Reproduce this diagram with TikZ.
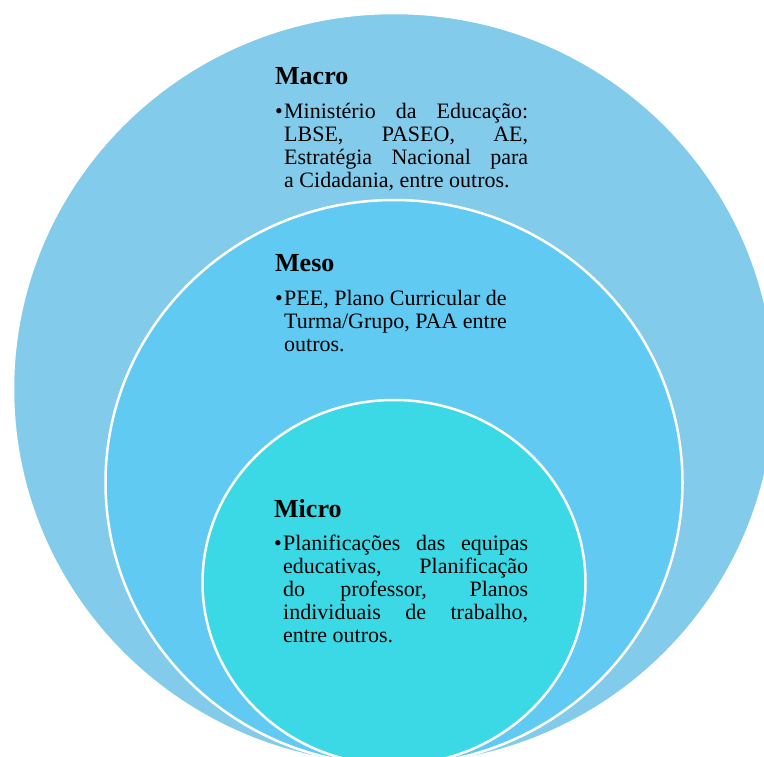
\documentclass[tikz,border=0pt]{standalone}
\usepackage{fontspec}
\setmainfont{Liberation Serif}
\definecolor{outerblue}{RGB}{131,203,235}
\definecolor{midblue}{RGB}{97,202,242}
\definecolor{innercyan}{RGB}{58,217,229}
\tikzset{
  ring/.style={draw=white, line width=2.5pt},
  blocktext/.style={anchor=base west, inner sep=0pt, text=black}
}
\newcommand{\lvltitle}[1]{{\fontsize{26}{28}\selectfont\bfseries #1}\par\vspace{10.5pt}}
\newcommand{\lvlbody}{\fontsize{22}{23}\selectfont\tolerance=10000\hbadness=10000\hyphenpenalty=10000}
\newcommand{\lvlbullet}{\hangindent=9pt\hangafter=1\noindent\makebox[9pt][l]{•}}
\begin{document}
\begin{tikzpicture}[x=1pt,y=-1pt]
\useasboundingbox (0,0) rectangle (764,757);
\clip (0,0) rectangle (764,757);
\draw[ring, fill=outerblue] (394,389) ellipse [x radius=381pt, y radius=376pt];
\draw[ring, fill=midblue] (394,482.5) ellipse [x radius=288.5pt, y radius=282.5pt];
\draw[ring, fill=innercyan] (394,582.5) ellipse [x radius=191.5pt, y radius=182.5pt];
\node[blocktext] (macro) at (275,85) {\parbox[t]{253pt}{\lvltitle{Macro}\lvlbody\lvlbullet Ministério da Educação:\linebreak LBSE, PASEO, AE,\linebreak Estratégia Nacional para\linebreak a Cidadania, entre outros.}};
\node[blocktext] (meso) at (275,272) {\parbox[t]{253pt}{\lvltitle{Meso}\lvlbody\lvlbullet PEE, Plano Curricular de\newline Turma/Grupo, PAA entre\newline outros.}};
\node[blocktext] (micro) at (274,517) {\parbox[t]{254pt}{\lvltitle{Micro}\lvlbody\lvlbullet Planificações das equipas\linebreak educativas, Planificação\linebreak do professor, Planos\linebreak individuais de trabalho,\linebreak entre outros.}};
\end{tikzpicture}
\end{document}
